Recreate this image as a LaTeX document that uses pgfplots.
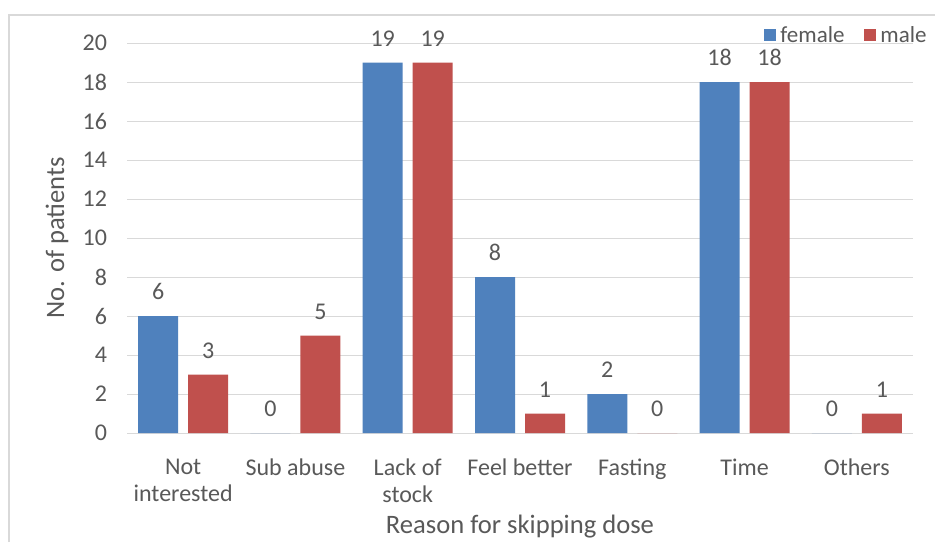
\documentclass[border=0pt]{standalone}
\usepackage{fontspec}
\setmainfont{Carlito}
\usepackage{pgfplots}
\pgfplotsset{compat=1.18}
\definecolor{fem}{HTML}{4F81BD}
\definecolor{mal}{HTML}{C0504D}
\definecolor{txt}{HTML}{595959}
\definecolor{grd}{HTML}{D9D9D9}
\begin{document}
\fontsize{11.5}{13.8}\selectfont
\begin{tikzpicture}
\useasboundingbox (0,0) rectangle (467.5pt,271pt);
\fill[white] (0,0) rectangle (467.5pt,271pt);
\draw[grd, line width=1pt] (4.5pt,0) -- (4.5pt,263.5pt) -- (467.5pt,263.5pt);
\begin{axis}[
  at={(63.5pt,54.5pt)}, anchor=south west,
  scale only axis, width=393pt, height=195pt,
  ybar=5pt, bar width=20pt,
  xmin=-0.5, xmax=6.5, ymin=0, ymax=20,
  ytick={0,2,...,20},
  xtick={0,...,6},
  xticklabels={Not\\interested, Sub abuse, Lack of\\stock, Feel better, Fasting, Time, Others},
  xticklabel style={align=center, text=txt, anchor=north, yshift=-9pt, font=\fontsize{12}{13.5}\selectfont},
  yticklabel style={text=txt, anchor=east, xshift=-6pt, font=\fontsize{12}{13.5}\selectfont},
  /pgf/number format/assume math mode=true,
  ymajorgrids, grid style={grd, line width=0.5pt},
  axis line style={draw=none},
  major tick length=0pt,
  xlabel={Reason for skipping dose},
  ylabel={No. of patients},
  label style={text=txt, font=\fontsize{13.3}{16}\selectfont},
  xlabel style={at={(axis description cs:0.5,-0.241)}, anchor=center},
  ylabel style={at={(axis description cs:-0.089,0.5)}, anchor=center},
  nodes near coords,
  every node near coord/.append style={text=txt, yshift=4pt, font=\fontsize{12}{13.5}\selectfont},
  legend style={at={(axis description cs:1.0229,1.018)}, anchor=east, draw=none, fill=none, legend columns=2, inner sep=0pt, text=txt,
    font=\fontsize{11.5}{13.8}\selectfont,
    /tikz/every even column/.append style={column sep=8pt}},
  legend image code/.code={\path[#1, draw=none] (0pt,-2.5pt) rectangle (6pt,3.5pt);},
]
\addplot[fill=fem, draw=none] coordinates {(0,6)(1,0)(2,19)(3,8)(4,2)(5,18)(6,0)};
\addplot[fill=mal, draw=none] coordinates {(0,3)(1,5)(2,19)(3,1)(4,0)(5,18)(6,1)};
\legend{female, male}
\end{axis}
\end{tikzpicture}
\end{document}
